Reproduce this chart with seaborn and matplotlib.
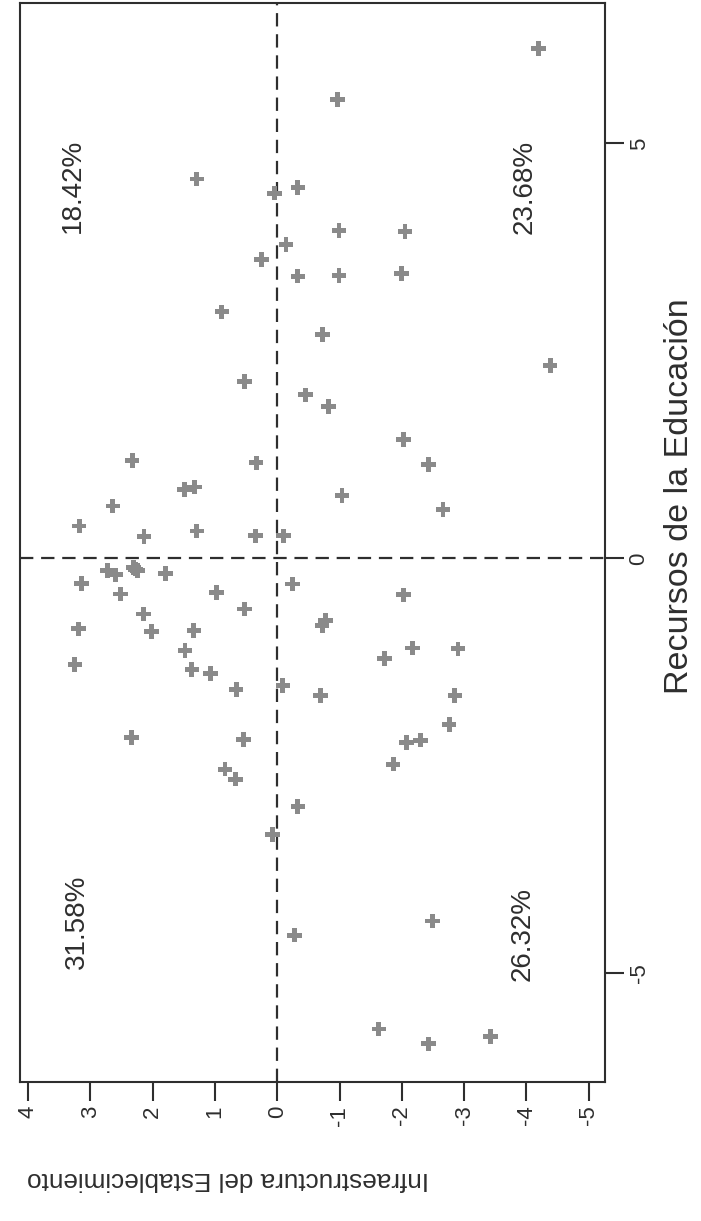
import numpy as np
import pandas as pd
import seaborn as sns
import matplotlib
matplotlib.use("Agg")
import matplotlib.pyplot as plt

#========================================================================================================
# Data (factor scores; page is turned 90 degrees)
#========================================================================================================

infraestructura = [-0.97, 1.29, 0.04, -0.33, -0.99, -0.14, 0.25, -0.33, -0.99, 0.89,
                   -0.73, 0.53, -0.45, -0.82, -4.19, -2.05, -1.99, -4.38, 2.33, 0.34,
                   1.49, 1.33, -1.04, 2.64, 3.18, 2.14, 1.29, 0.35, -0.10, 2.73,
                   2.60, 2.31, 2.24, 2.28, 1.79, 3.14, -0.24, 2.52, 0.98, 0.53,
                   2.15, -0.77, -0.72, 3.19, 2.02, 1.34, 1.48, 3.25, 1.37, 1.07,
                   0.66, -0.09, -0.69, 2.34, 0.54, 0.84, 0.67, -2.03, -2.43, -2.66,
                   -2.03, -2.17, -2.90, -1.72, -2.85, -2.76, -2.07, -2.30, -1.86, -0.33,
                   0.08, -0.28, -2.49, -1.63, -2.43, -3.42]

recursos = [5.53, 4.57, 4.40, 4.47, 3.95, 3.78, 3.60, 3.40, 3.41, 2.97,
            2.70, 2.13, 1.97, 1.83, 6.14, 3.94, 3.43, 2.32, 1.18, 1.15,
            0.83, 0.86, 0.76, 0.63, 0.39, 0.26, 0.33, 0.27, 0.27, -0.15,
            -0.20, -0.11, -0.15, -0.13, -0.18, -0.30, -0.31, -0.43, -0.41, -0.61,
            -0.67, -0.75, -0.81, -0.85, -0.88, -0.87, -1.11, -1.28, -1.34, -1.39,
            -1.58, -1.53, -1.65, -2.16, -2.18, -2.54, -2.66, 1.43, 1.13, 0.59,
            -0.44, -1.08, -1.09, -1.21, -1.65, -2.00, -2.22, -2.19, -2.48, -2.99,
            -3.33, -4.54, -4.37, -5.67, -5.85, -5.76]

#Quadrant percentages
quad_labels = ["18.42%", "23.68%", "31.58%", "26.32%"]
quad_infra = [3.28, -3.97, 3.21, -3.94]
quad_recursos = [4.49, 4.48, -4.38, -4.53]

infra_ticks = [4, 3, 2, 1, 0, -1, -2, -3, -4, -5]
recursos_ticks = [-5, 0, 5]

#========================================================================================================
# Plot
#========================================================================================================

sns.set_style("white")
plt.rcParams['font.family'] = ['Liberation Sans', 'DejaVu Sans']
plt.rcParams['axes.unicode_minus'] = False

df = pd.DataFrame({'infra': infraestructura, 'recursos': recursos})

fig = plt.figure(figsize=(7.01, 12.21), dpi=100)
ax = fig.add_axes([0.0285, 0.1138, 0.8345, 0.8837])

ink = '#2e2e2e'

#Reference lines at zero
ax.axvline(0, color=ink, lw=1.6, linestyle=(0, (6, 3.5)), zorder=1)
ax.axhline(0, color=ink, lw=1.6, linestyle=(0, (6, 3.5)), zorder=1)

sns.scatterplot(data=df, x='infra', y='recursos', ax=ax, marker='P', s=110,
                color='#8a8a8a', edgecolor='none', linewidth=0, zorder=2)

#Limits (horizontal axis inverted: the page is rotated)
ax.set_xlim(4.13, -5.26)
ax.set_ylim(-6.31, 6.69)

#Quadrant labels
for txt, xi, yi in zip(quad_labels, quad_infra, quad_recursos):
    ax.text(xi, yi, txt, rotation=90, ha='center', va='center', fontsize=20, color=ink)

#Spines
for side in ['left', 'right', 'top', 'bottom']:
    ax.spines[side].set_visible(True)
    ax.spines[side].set_color(ink)
    ax.spines[side].set_linewidth(1.5)

#Ticks
ax.set_xticks(infra_ticks)
ax.set_xticklabels([str(t) for t in infra_ticks], rotation=90, fontsize=16, color=ink)
ax.yaxis.tick_right()
ax.set_yticks(recursos_ticks)
ax.set_yticklabels([str(t) for t in recursos_ticks], rotation=90, va='center', fontsize=16, color=ink)
ax.tick_params(axis='x', bottom=True, top=False, direction='out', length=14, width=1.5, color=ink, pad=3)
ax.tick_params(axis='y', right=True, left=False, direction='out', length=14, width=1.5, color=ink, pad=3)

#Axis titles
ax.set_xlabel("Infraestructura del Establecimiento", fontsize=18.8, color=ink, rotation=180)
ax.xaxis.set_label_coords(0.355, -0.09)
ax.xaxis.label.set_va('center')
ax.yaxis.set_label_position('right')
ax.set_ylabel("Recursos de la Educación", fontsize=24.5, color=ink, rotation=90)
ax.yaxis.set_label_coords(1.128, 0.543)
ax.yaxis.label.set_va('center')
ax.yaxis.label.set_ha('center')

plt.savefig("out.png", dpi=100)
plt.close()
